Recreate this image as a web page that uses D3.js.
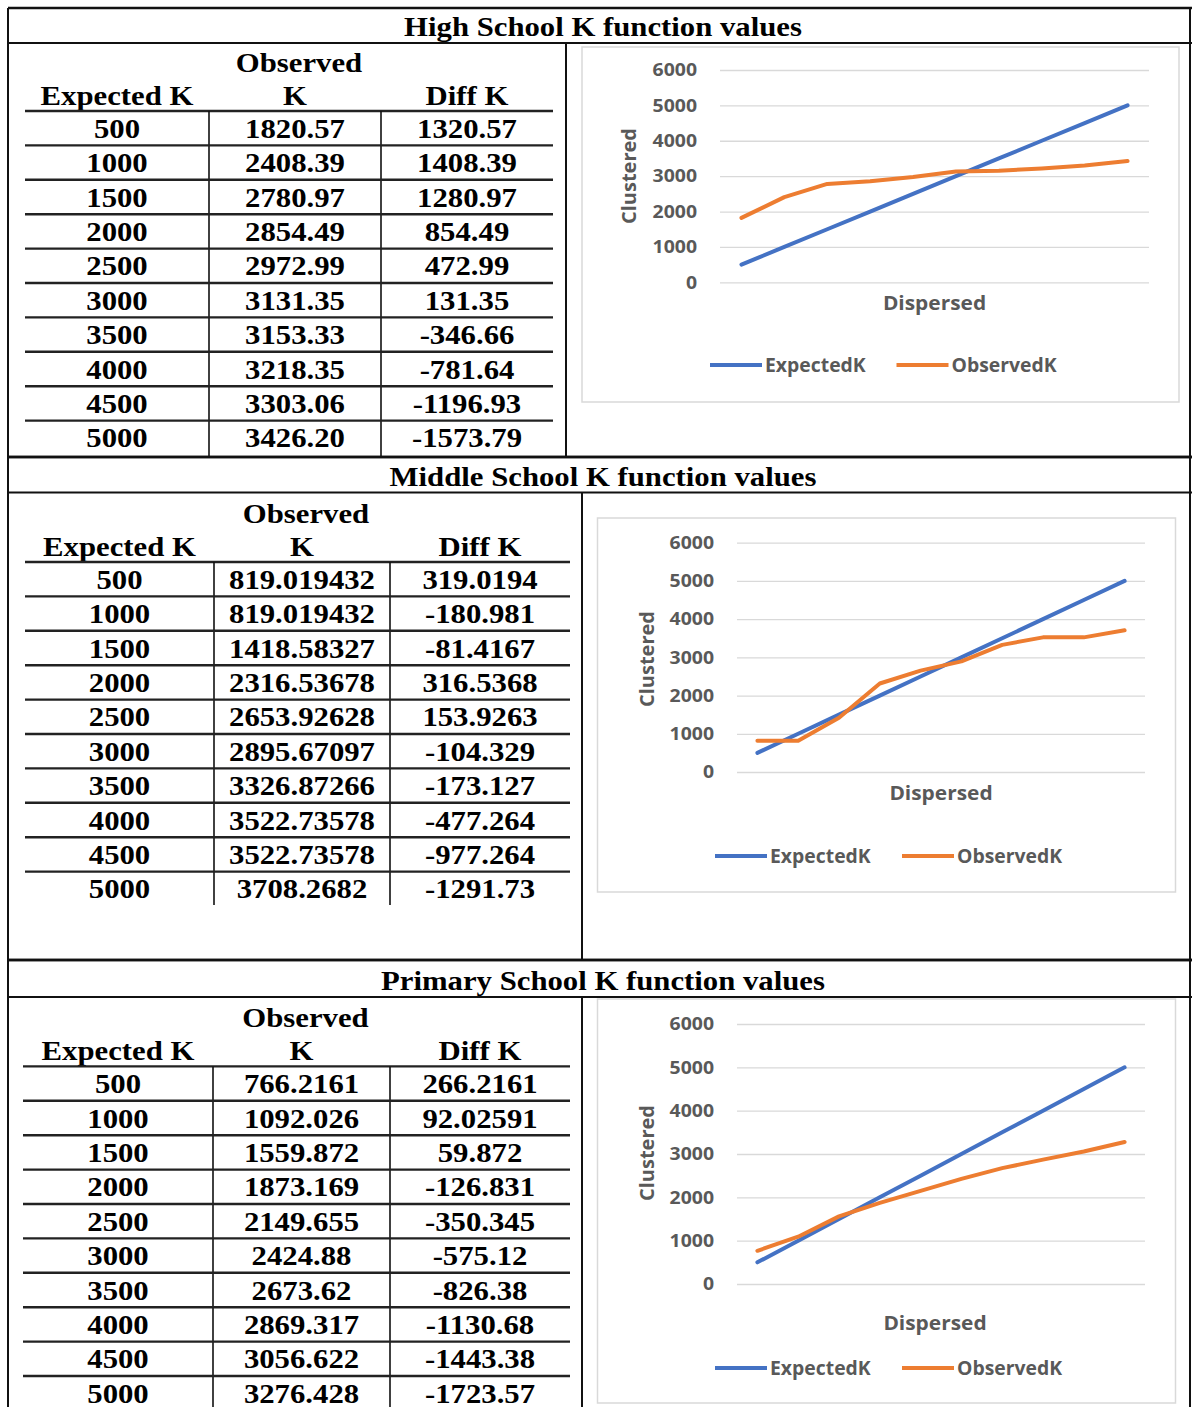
<!DOCTYPE html>
<html><head><meta charset="utf-8">
<script src="https://cdn.jsdelivr.net/npm/d3@7"></script>
<style>body{margin:0;background:#fff}svg{display:block}</style>
</head><body><svg id="c" width="1192" height="1407"></svg>
<script>
// ---------------- DATA ----------------
const titles = ["High School K function values", "Middle School K function values", "Primary School K function values"];
const headerTop = "Observed";
const headers = ["Expected K", "K", "Diff K"];
const expectedK = [500, 1000, 1500, 2000, 2500, 3000, 3500, 4000, 4500, 5000];
const highObserved = ["1820.57","2408.39","2780.97","2854.49","2972.99","3131.35","3153.33","3218.35","3303.06","3426.20"];
const highDiff = ["1320.57","1408.39","1280.97","854.49","472.99","131.35","-346.66","-781.64","-1196.93","-1573.79"];
const middleObserved = ["819.019432","819.019432","1418.58327","2316.53678","2653.92628","2895.67097","3326.87266","3522.73578","3522.73578","3708.2682"];
const middleDiff = ["319.0194","-180.981","-81.4167","316.5368","153.9263","-104.329","-173.127","-477.264","-977.264","-1291.73"];
const primaryObserved = ["766.2161","1092.026","1559.872","1873.169","2149.655","2424.88","2673.62","2869.317","3056.622","3276.428"];
const primaryDiff = ["266.2161","92.02591","59.872","-126.831","-350.345","-575.12","-826.38","-1130.68","-1443.38","-1723.57"];
const yTicks = [0, 1000, 2000, 3000, 4000, 5000, 6000];
const seriesNames = ["ExpectedK", "ObservedK"];
const xTitle = "Dispersed";
const yTitle = "Clustered";

// ---------------- LAYOUT ----------------
const sections = [
  { observed: highObserved, diff: highDiff, top: 8, titleBottom: 43, bottom: 457, headerLine: 111,
    cols: [25, 209, 381, 553], colEnd: 457, divider: 566,
    box: [582, 47, 1179, 402], gx: [720, 1149], gy: [282.3, 70], tickRight: 697,
    yt: [628.5, 176], xt: [934.5, 303], legY: 365, leg: [710, 896.5] },
  { observed: middleObserved, diff: middleDiff, top: 457, titleBottom: 492.5, bottom: 960, headerLine: 562,
    cols: [25, 214, 390, 570], colEnd: 905, divider: 582,
    box: [597.5, 518, 1175.5, 892], gx: [737, 1145], gy: [772, 542.7], tickRight: 714,
    yt: [647, 659], xt: [941, 793], legY: 856, leg: [715, 902] },
  { observed: primaryObserved, diff: primaryDiff, top: 960, titleBottom: 997, bottom: null, headerLine: 1066.4,
    cols: [23, 213, 390, 570], colEnd: 1410, divider: 582,
    box: [597.5, 999, 1175.5, 1403], gx: [737, 1145], gy: [1284, 1024], tickRight: 714,
    yt: [647, 1153], xt: [935, 1323], legY: 1368, leg: [715, 902] }
];
const ROW_H = 34.4;
const LEFT = 8, RIGHT = 1190;
const SERIF = "'Liberation Serif','Times New Roman',serif";
const SANS = "'Open Sans','Noto Sans',sans-serif";
const SERIF_SX = 1.18;
const colors = ["#4472C4", "#ED7D31"];
const GRAY = "#595959";

const svg = d3.select('#c');
svg.append('rect').attr('width', 1192).attr('height', 1407).attr('fill', '#fff');

function txt(g, str, x, y, o) {
  return g.append('text')
    .attr('transform', `translate(${x},${y}) scale(${o.sx},1)`)
    .attr('text-anchor', o.anchor || 'middle')
    .attr('font-family', o.family).attr('font-size', o.size)
    .attr('font-weight', o.weight || 'bold')
    .attr('fill', o.fill || '#000').text(str);
}
function line(g, x1, y1, x2, y2, w, c) {
  g.append('line').attr('x1', x1).attr('y1', y1).attr('x2', x2).attr('y2', y2)
    .attr('stroke', c || '#111').attr('stroke-width', w);
}
const serif = { family: SERIF, size: 26.5, sx: 1.16 };

sections.forEach((s, si) => {
  const g = svg.append('g');
  const bottom = s.bottom == null ? 1420 : s.bottom;
  // section frame
  line(g, LEFT, s.top, 1192, s.top, 2.6);
  line(g, LEFT, s.titleBottom, 1192, s.titleBottom, 2);
  line(g, LEFT, s.top, LEFT, bottom, 2);
  line(g, RIGHT, s.top, RIGHT, bottom, 2);
  line(g, s.divider, s.titleBottom, s.divider, bottom, 2);
  if (s.bottom != null) line(g, LEFT, s.bottom, 1192, s.bottom, 2.6);
  // title
  txt(g, titles[si], 603, s.titleBottom - 7, serif);

  // table
  const cx = [(s.cols[0] + s.cols[1]) / 2, (s.cols[1] + s.cols[2]) / 2, (s.cols[2] + s.cols[3]) / 2];
  txt(g, headerTop, cx[1] + 4, s.headerLine - 39, serif);
  headers.forEach((h, i) => txt(g, h, cx[i], s.headerLine - 6, serif));
  line(g, s.cols[0], s.headerLine, s.cols[3], s.headerLine, 2.4, '#222');
  line(g, s.cols[1], s.headerLine, s.cols[1], s.colEnd, 1.6, '#111');
  line(g, s.cols[2], s.headerLine, s.cols[2], s.colEnd, 1.6, '#111');
  expectedK.forEach((e, i) => {
    const yc = s.headerLine + ROW_H * (i + 0.5);
    txt(g, String(e), cx[0], yc + 9.5, serif);
    txt(g, s.observed[i], cx[1], yc + 9.5, serif);
    txt(g, s.diff[i], cx[2], yc + 9.5, serif);
    if (i < expectedK.length - 1)
      line(g, s.cols[0], s.headerLine + ROW_H * (i + 1), s.cols[3], s.headerLine + ROW_H * (i + 1), 2.4, '#222');
  });

  // chart
  const [bx0, by0, bx1, by1] = s.box;
  g.append('rect').attr('x', bx0).attr('y', by0).attr('width', bx1 - bx0).attr('height', by1 - by0)
    .attr('fill', '#fff').attr('stroke', '#d9d9d9').attr('stroke-width', 1.5);
  const x = d3.scalePoint().domain(d3.range(expectedK.length)).range(s.gx).padding(0.5);
  const y = d3.scaleLinear().domain([0, 6000]).range(s.gy);
  const ax = g.append('g').attr('transform', `translate(${s.gx[0]},0)`)
    .call(d3.axisLeft(y).tickValues(yTicks).tickFormat(d3.format('d'))
      .tickSize(-(s.gx[1] - s.gx[0])).tickPadding(s.gx[0] - s.tickRight));
  ax.select('.domain').remove();
  ax.selectAll('.tick line').attr('stroke', '#d9d9d9').attr('stroke-width', 1.3);
  ax.selectAll('.tick text').each(function () {
    const t = d3.select(this);
    const xx = +t.attr('x');
    t.attr('x', 0).attr('transform', `translate(${xx},0) scale(1.08,1)`)
      .attr('font-family', SANS).attr('font-size', 18).attr('font-weight', 700).attr('fill', GRAY);
  });
  txt(g, xTitle, s.xt[0], s.xt[1] + 7, { family: SANS, size: 19, sx: 1.1, weight: 700, fill: GRAY });
  g.append('text').attr('transform', `translate(${s.yt[0] + 7},${s.yt[1]}) rotate(-90)`)
    .attr('text-anchor', 'middle').attr('font-family', SANS).attr('font-size', 20)
    .attr('font-weight', 700).attr('fill', GRAY).text(yTitle);

  const values = [expectedK, s.observed.map(Number)];
  const lg = d3.line().x((d, i) => x(i)).y(d => y(d));
  values.forEach((v, k) => {
    g.append('path').datum(v).attr('d', lg).attr('fill', 'none')
      .attr('stroke', colors[k]).attr('stroke-width', 4)
      .attr('stroke-linejoin', 'round').attr('stroke-linecap', 'round');
  });
  // legend
  seriesNames.forEach((n, k) => {
    const lx = s.leg[k];
    line(g, lx, s.legY, lx + 52, s.legY, 4, colors[k]);
    txt(g, n, lx + 55, s.legY + 6.5, { family: SANS, size: 19, sx: 1.02, weight: 700, fill: GRAY, anchor: 'start' });
  });
});
</script></body></html>
